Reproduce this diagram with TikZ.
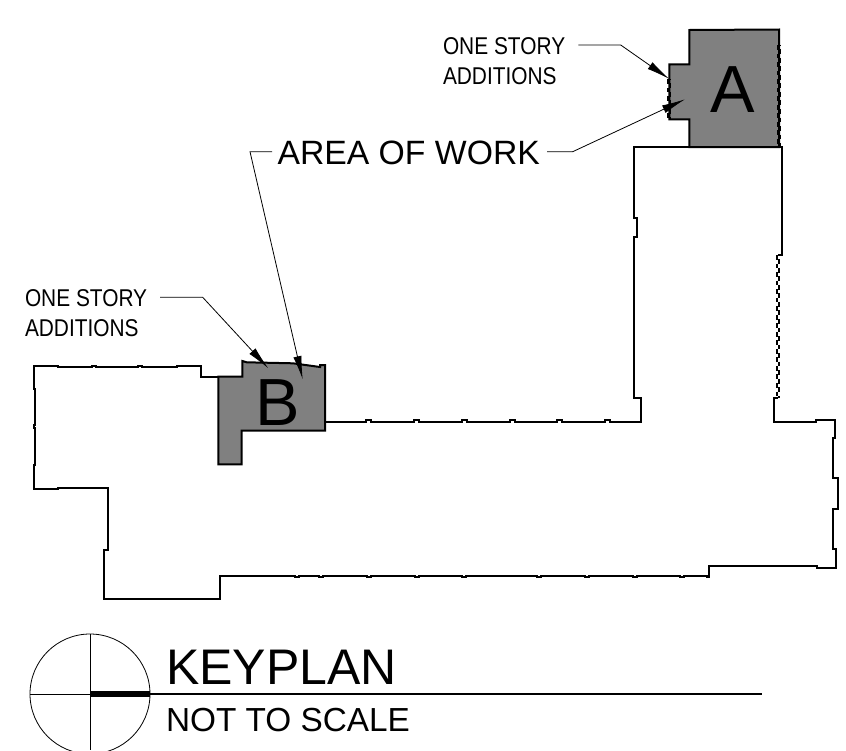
\documentclass[tikz,border=0pt]{standalone}
\usepackage{fontspec}
\setmainfont{Liberation Sans}
\usetikzlibrary{arrows.meta}
\definecolor{fillgray}{HTML}{808080}
\tikzset{
  wall/.style={line width=1.5pt,line join=miter,black},
  area/.style={wall,fill=fillgray},
  leader/.style={line width=0.6pt,black,-{Latex[length=17.5pt,width=6.2pt]}},
  thin line/.style={line width=0.6pt,black},
  wig/.style={line width=1.7pt,black,dash pattern=on 3.6pt off 2.8pt},
  lab/.style={inner sep=0pt,outer sep=0pt,anchor=base west,text=black},
  small lab/.style={lab,transform shape,xscale=0.86,font=\fontsize{18.2pt}{18.2pt}\selectfont}
}
\begin{document}
\begin{tikzpicture}[x=0.75pt,y=-0.75pt]
\useasboundingbox (0,0) rectangle (846,750);
\fill[white] (0,0) rectangle (846,750);
% main outline
\draw[wall] (325,421.5)
  -- (366,421.5) -- (366,420) -- (371,420) -- (371,421.5)
  -- (414,421.5) -- (414,420) -- (419,420) -- (419,421.5)
  -- (462,421.5) -- (462,420) -- (467,420) -- (467,421.5)
  -- (510,421.5) -- (510,420) -- (515,420) -- (515,421.5)
  -- (557,421.5) -- (557,420) -- (562,420) -- (562,421.5)
  -- (605,421.5) -- (605,420) -- (610,420) -- (610,421.5)
  -- (640.5,421.5) -- (640.5,398) -- (634,398) -- (634,236.7)
  -- (636.7,236.7) -- (636.7,218) -- (634,218) -- (634,147)
  -- (782.3,147) -- (782.3,255) -- (778,255);
\draw[wall] (778,398) -- (773.5,398) -- (773.5,421.7)
  -- (815.7,421.7) -- (815.7,420) -- (835,420) -- (835,438) -- (833,438)
  -- (833,478) -- (838,478) -- (838,509) -- (833,509) -- (833,549)
  -- (836,549) -- (836,567.5) -- (817,567.5) -- (817,566) -- (709,566)
  -- (709,576.5) -- (707,576.5) -- (707,575.5)
  -- (684,575.5) -- (684,577) -- (680,577) -- (680,575.5)
  -- (637,575.5) -- (637,577) -- (633,577) -- (633,575.5)
  -- (589,575.5) -- (589,577) -- (585,577) -- (585,575.5)
  -- (541,575.5) -- (541,577) -- (537,577) -- (537,575.5)
  -- (466,575.5) -- (466,577) -- (462,577) -- (462,575.5)
  -- (419,575.5) -- (419,577) -- (415,577) -- (415,575.5)
  -- (371,575.5) -- (371,577) -- (367,577) -- (367,575.5)
  -- (323,575.5) -- (323,577) -- (319,577) -- (319,575.5)
  -- (299,575.5) -- (299,577) -- (295,577) -- (295,575.5)
  -- (219.5,575.5) -- (219.5,599) -- (103.5,599) -- (103.5,550) -- (108,550)
  -- (108,488) -- (58,488) -- (58,489) -- (34,489) -- (34,465) -- (35,465)
  -- (35,428) -- (33.5,428) -- (33.5,425) -- (35,425) -- (35,389) -- (34,389)
  -- (34,366) -- (58,366) -- (58,367) -- (92,367) -- (92,366) -- (96,366)
  -- (96,367) -- (138,367) -- (138,366) -- (142,366) -- (142,367) -- (177,367)
  -- (177,366) -- (201,366) -- (201,376.7) -- (218.3,376.7);
% stepped side of the tower
\draw[wig] (777.2,255) -- (777.2,398);
\draw[wig,dash phase=3.2pt] (778.8,255) -- (778.8,398);
% shaded areas
\draw[area] (689.3,147) -- (689.3,119.3) -- (669.3,119.3) -- (669.3,64.3)
  -- (689.3,64.3) -- (689.3,30) -- (779,29.5) -- (779,147) -- cycle;
\draw[wig] (668.5,79) -- (668.5,119);
\draw[wig,dash phase=3.2pt] (670.1,79) -- (670.1,119);
\draw[wig] (778.2,45) -- (778.2,147);
\draw[wig,dash phase=3.2pt] (779.8,45) -- (779.8,147);
\draw[area] (218.3,376.7) -- (242.3,376.7) -- (242.3,361) -- (246.7,362.3)
  -- (293,363.3) -- (320,367) -- (320,365) -- (325,365) -- (325,430.7)
  -- (241.7,430.7) -- (241.7,464.3) -- (218.3,464.3) -- cycle;
% letters
\node[lab,font=\fontsize{50pt}{50pt}\selectfont] (letterA) at (710.5,112.5) {A};
\node[lab,font=\fontsize{50pt}{50pt}\selectfont] (letterB) at (255,425) {B};
% labels
\node[lab,font=\fontsize{25.3pt}{25.3pt}\selectfont] (work) at (277.5,164.5) {AREA OF WORK};
\node[small lab] (storyA) at (443,54) {ONE STORY};
\node[small lab] (addA) at (443,84) {ADDITIONS};
\node[small lab] (storyB) at (25,306.5) {ONE STORY};
\node[small lab] (addB) at (25,336.5) {ADDITIONS};
\node[lab,font=\fontsize{37.5pt}{37.5pt}\selectfont] (keyplan) at (166,684.5) {KEYPLAN};
\node[lab,font=\fontsize{25pt}{25pt}\selectfont] (nts) at (166,731) {NOT TO SCALE};
% leaders
\coordinate (tipA1) at (669.3,79);
\coordinate (tipA2) at (685,99.3);
\coordinate (tipB1) at (268.3,368.3);
\coordinate (tipB2) at (302.7,379.3);
\draw[leader] (578.3,45) -- (620.7,45) -- (tipA1);
\draw[leader] (547,151.7) -- (572.7,151.7) -- (tipA2);
\draw[leader] (160,297.3) -- (202.7,297.3) -- (tipB1);
\draw[leader] (272,151.7) -- (250,151.7) -- (tipB2);
% keyplan symbol
\coordinate (c) at (90,694);
\draw[thin line] (c) circle[radius=60];
\draw[thin line] (90,634) -- (90,750);
\draw[thin line] (30,694) -- (90,694);
\draw[line width=4.5pt,black] (c) -- (150,694);
\draw[line width=2.2pt,black] (150,694) -- (762,694);
\end{tikzpicture}
\end{document}
